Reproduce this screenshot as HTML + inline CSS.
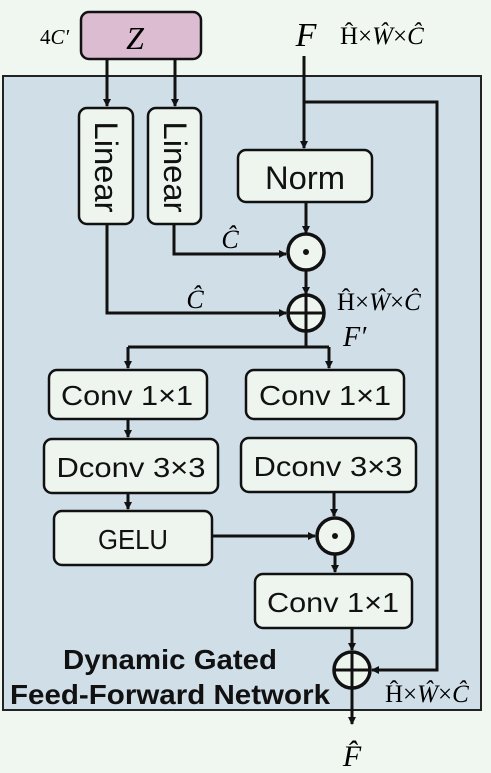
<!DOCTYPE html>
<html><head><style>
html,body{margin:0;padding:0;background:#f0f6f0;}
svg{display:block}
.s{font-family:"Liberation Sans",sans-serif;}
.m{font-family:"Liberation Serif",serif;font-style:italic;}
</style></head><body>
<svg width="491" height="773" viewBox="0 0 491 773" xmlns="http://www.w3.org/2000/svg">
<defs>
<marker id="a" markerWidth="8" markerHeight="8" refX="7" refY="4" orient="auto" markerUnits="userSpaceOnUse">
<path d="M0,0 L8,4 L0,8 Z" fill="#111"/></marker>
</defs>
<rect x="0" y="0" width="491" height="773" fill="#f0f6f0"/>
<rect x="3" y="76" width="478" height="634" fill="#d0dee8" stroke="#222" stroke-width="2"/>
<rect x="81" y="12" width="120" height="47" rx="8" fill="#dcbcd0" stroke="#111" stroke-width="2.5"/>
<text x="135" y="49" class="m" font-size="32" text-anchor="middle">Z</text>
<text x="40" y="44" font-family="Liberation Serif,serif" font-size="21">4<tspan font-style="italic">C′</tspan></text>
<text x="306" y="46" class="m" font-size="34" text-anchor="middle">F</text>
<text x="340" y="44" font-family="Liberation Serif,serif" font-size="25">Ĥ×<tspan font-style="italic">Ŵ</tspan>×<tspan font-style="italic">Ĉ</tspan></text>
<g stroke="#111" stroke-width="3" fill="none">
<line x1="107" y1="59" x2="107" y2="106" marker-end="url(#a)"/>
<line x1="175" y1="59" x2="175" y2="106" marker-end="url(#a)"/>
<line x1="304" y1="56" x2="304" y2="148" marker-end="url(#a)"/>
<polyline points="304,102 437,102 437,670 372,670" marker-end="url(#a)"/>
<line x1="306" y1="202" x2="306" y2="233" marker-end="url(#a)"/>
<polyline points="174,224 174,254 286,254" marker-end="url(#a)"/>
<line x1="306" y1="270" x2="306" y2="294" marker-end="url(#a)"/>
<polyline points="107,224 107,313 286,313" marker-end="url(#a)"/>
<line x1="306" y1="331" x2="306" y2="347"/>
<line x1="128" y1="347" x2="329" y2="347"/>
<line x1="128" y1="347" x2="128" y2="368" marker-end="url(#a)"/>
<line x1="329" y1="347" x2="329" y2="368" marker-end="url(#a)"/>
<line x1="128" y1="419" x2="128" y2="437" marker-end="url(#a)"/>
<line x1="128" y1="493" x2="128" y2="509" marker-end="url(#a)"/>
<line x1="334" y1="492" x2="334" y2="516" marker-end="url(#a)"/>
<line x1="212" y1="536" x2="315" y2="536" marker-end="url(#a)"/>
<line x1="335" y1="554" x2="335" y2="572" marker-end="url(#a)"/>
<line x1="352" y1="628" x2="352" y2="650" marker-end="url(#a)"/>
<line x1="352" y1="688" x2="352" y2="724" marker-end="url(#a)"/>
</g>
<g fill="#eef5ef" stroke="#111" stroke-width="2.5">
<rect x="79" y="108" width="54" height="116" rx="8"/>
<rect x="148" y="108" width="53" height="116" rx="8"/>
<rect x="238" y="150" width="134" height="52" rx="8"/>
<rect x="49" y="370" width="158" height="49" rx="8"/>
<rect x="246" y="370" width="158" height="49" rx="8"/>
<rect x="44" y="439" width="174" height="54" rx="8"/>
<rect x="241" y="438" width="175" height="54" rx="8"/>
<rect x="54" y="511" width="158" height="54" rx="8"/>
<rect x="255" y="574" width="157" height="54" rx="8"/>
</g>
<g fill="#eef5ef" stroke="#111" stroke-width="3.5">
<circle cx="306" cy="252" r="18"/>
<circle cx="306" cy="313" r="18"/>
<circle cx="335" cy="536" r="18"/>
<circle cx="352" cy="670" r="18"/>
</g>
<g stroke="#111" stroke-width="3">
<line x1="288" y1="313" x2="324" y2="313"/><line x1="306" y1="295" x2="306" y2="331"/>
<line x1="334" y1="670" x2="370" y2="670"/><line x1="352" y1="652" x2="352" y2="688"/>
</g>
<circle cx="306" cy="252" r="3" fill="#111"/>
<circle cx="335" cy="536" r="3" fill="#111"/>
<g class="s" font-size="32" fill="#111">
<text transform="translate(95,167) rotate(90)" text-anchor="middle" textLength="91" lengthAdjust="spacingAndGlyphs">Linear</text>
<text transform="translate(164,167) rotate(90)" text-anchor="middle" textLength="91" lengthAdjust="spacingAndGlyphs">Linear</text>
<text x="305" y="189" text-anchor="middle" textLength="80" lengthAdjust="spacingAndGlyphs">Norm</text>
</g>
<g class="s" font-size="28" fill="#111" text-anchor="middle">
<text x="127" y="405" textLength="132" lengthAdjust="spacingAndGlyphs">Conv 1×1</text>
<text x="325" y="405" textLength="132" lengthAdjust="spacingAndGlyphs">Conv 1×1</text>
<text x="131" y="477" textLength="149" lengthAdjust="spacingAndGlyphs">Dconv 3×3</text>
<text x="328" y="476" textLength="149" lengthAdjust="spacingAndGlyphs">Dconv 3×3</text>
<text x="133" y="549" textLength="70" lengthAdjust="spacingAndGlyphs">GELU</text>
<text x="333" y="612" textLength="132" lengthAdjust="spacingAndGlyphs">Conv 1×1</text>
</g>
<text x="230" y="248" class="m" font-size="26" text-anchor="middle">Ĉ</text>
<text x="195" y="308" class="m" font-size="26" text-anchor="middle">Ĉ</text>
<text x="337" y="310" font-family="Liberation Serif,serif" font-size="25">Ĥ×<tspan font-style="italic">Ŵ</tspan>×<tspan font-style="italic">Ĉ</tspan></text>
<text x="343" y="346" class="m" font-size="28">F′</text>
<text x="385" y="702" font-family="Liberation Serif,serif" font-size="25">Ĥ×<tspan font-style="italic">Ŵ</tspan>×<tspan font-style="italic">Ĉ</tspan></text>
<text x="352" y="766" class="m" font-size="30" text-anchor="middle">F̂</text>
<g class="s" font-size="28" font-weight="bold" fill="#111" text-anchor="middle">
<text x="170" y="669" textLength="214" lengthAdjust="spacingAndGlyphs">Dynamic Gated</text>
<text x="170" y="704" textLength="320" lengthAdjust="spacingAndGlyphs">Feed-Forward Network</text>
</g>
</svg>
</body></html>
